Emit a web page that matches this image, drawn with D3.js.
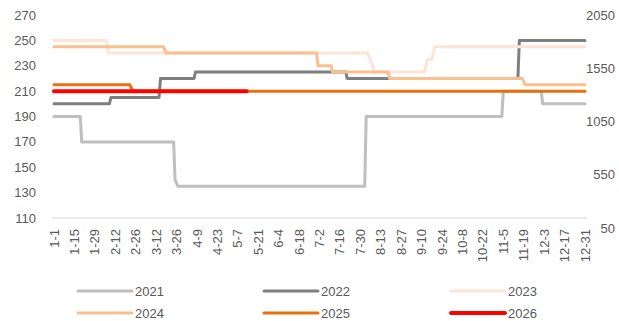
<!DOCTYPE html>
<html>
<head>
<meta charset="utf-8">
<script src="https://cdn.jsdelivr.net/npm/d3@7"></script>
<style>
  body { margin: 0; background: #fff; }
  text { font-family: "Liberation Sans", Arial, sans-serif; fill: #595959; }
</style>
</head>
<body>
<svg width="619" height="321"></svg>
<script>
// tick labels (every 14 days) and axis values
const tickLabels = ["1-1","1-15","1-29","2-12","2-26","3-12","3-26","4-9","4-23","5-7","5-21","6-4","6-18",
  "7-2","7-16","7-30","8-13","8-27","9-10","9-24","10-8","10-22","11-5","11-19","12-3","12-17","12-31"];
const leftTicks = [110, 130, 150, 170, 190, 210, 230, 250, 270];
const rightTicks = [50, 550, 1050, 1550, 2050];

// series: [day, value] at each change point
const years = ["2021", "2022", "2023", "2024", "2025", "2026"];
const s2021 = [["1-1",190],["1-19",190],["1-20",170],["3-24",170],["3-25",140],["3-27",135],["8-2",135],["8-3",190],
  ["11-4",190],["11-5",210],["12-1",210],["12-2",200],["12-31",200]];
const s2022 = [["1-1",200],["2-8",200],["2-9",205],["3-14",205],["3-15",220],["4-7",220],["4-8",225],["7-20",225],
  ["7-21",220],["11-15",220],["11-16",250],["12-31",250]];
const s2023 = [["1-1",250],["2-6",250],["2-7",240],["8-4",240],["8-9",225],["9-12",225],["9-14",235],["9-17",235],
  ["9-19",245],["12-31",245]];
const s2024 = [["1-1",245],["3-17",245],["3-19",240],["6-30",240],["7-1",230],["7-10",230],["7-11",225],["8-18",225],
  ["8-19",220],["11-18",220],["11-20",215],["12-31",215]];
const s2025 = [["1-1",215],["2-22",215],["2-24",210],["12-31",210]];
const s2026 = [["1-1",210],["5-13",210]];
const seriesData = [s2021, s2022, s2023, s2024, s2025, s2026];

const colors = ["#bfbfbf", "#7f7f7f", "#fce4d6", "#f9c08e", "#e8700e", "#ff0000"];
const widths = [3, 3, 3, 3, 3, 4];

const svg = d3.select("svg");

// "M-D" -> date in a non-leap year
const parseDay = s => { const p = s.split("-"); return new Date(Date.UTC(2021, +p[0] - 1, +p[1])); };

const x = d3.scaleUtc()
  .domain([parseDay("1-1"), parseDay("12-31")])
  .range([54, 585]);
const y = d3.scaleLinear().domain([110, 270]).range([218, 15]);
const yRight = d3.scaleLinear().domain([50, 2050]).range([228, 15]);

// baseline
svg.append("line")
  .attr("x1", 52).attr("x2", 587)
  .attr("y1", y(110)).attr("y2", y(110))
  .attr("stroke", "#d9d9d9").attr("stroke-width", 1);

// left axis labels
svg.append("g").selectAll("text")
  .data(leftTicks)
  .enter().append("text")
    .attr("x", 36)
    .attr("y", d => y(d))
    .attr("dy", "0.35em")
    .attr("text-anchor", "end")
    .style("font-size", "13px")
    .text(d => d);

// right axis labels
svg.append("g").selectAll("text")
  .data(rightTicks)
  .enter().append("text")
    .attr("x", 615)
    .attr("y", d => yRight(d))
    .attr("dy", "0.35em")
    .attr("text-anchor", "end")
    .style("font-size", "13px")
    .text(d => d);

// x labels, rotated
svg.append("g").selectAll("text")
  .data(tickLabels)
  .enter().append("text")
    .attr("transform", d => "translate(" + x(parseDay(d)) + ",229) rotate(-90)")
    .attr("dy", "0.35em")
    .attr("text-anchor", "end")
    .style("font-size", "13px")
    .text(d => d);

// the lines
const line = d3.line()
  .x(d => x(parseDay(d[0])))
  .y(d => y(d[1]));

svg.append("g").selectAll("path")
  .data(seriesData)
  .enter().append("path")
    .attr("d", line)
    .attr("fill", "none")
    .attr("stroke", (d, i) => colors[i])
    .attr("stroke-width", (d, i) => widths[i])
    .attr("stroke-linejoin", "round")
    .attr("stroke-linecap", "round");

// legend, 3 columns x 2 rows
const legendX = [78, 264, 451];
const legendY = [291, 313];
const item = svg.append("g").selectAll("g")
  .data(years)
  .enter().append("g")
    .attr("transform", (d, i) => "translate(" + legendX[i % 3] + "," + legendY[Math.floor(i / 3)] + ")");

item.append("line")
  .attr("x1", 0).attr("x2", 54)
  .attr("stroke", (d, i) => colors[i])
  .attr("stroke-width", (d, i) => widths[i])
  .attr("stroke-linecap", "round");

item.append("text")
  .attr("x", 57)
  .attr("dy", "0.35em")
  .style("font-size", "13px")
  .text(d => d);
</script>
</body>
</html>
